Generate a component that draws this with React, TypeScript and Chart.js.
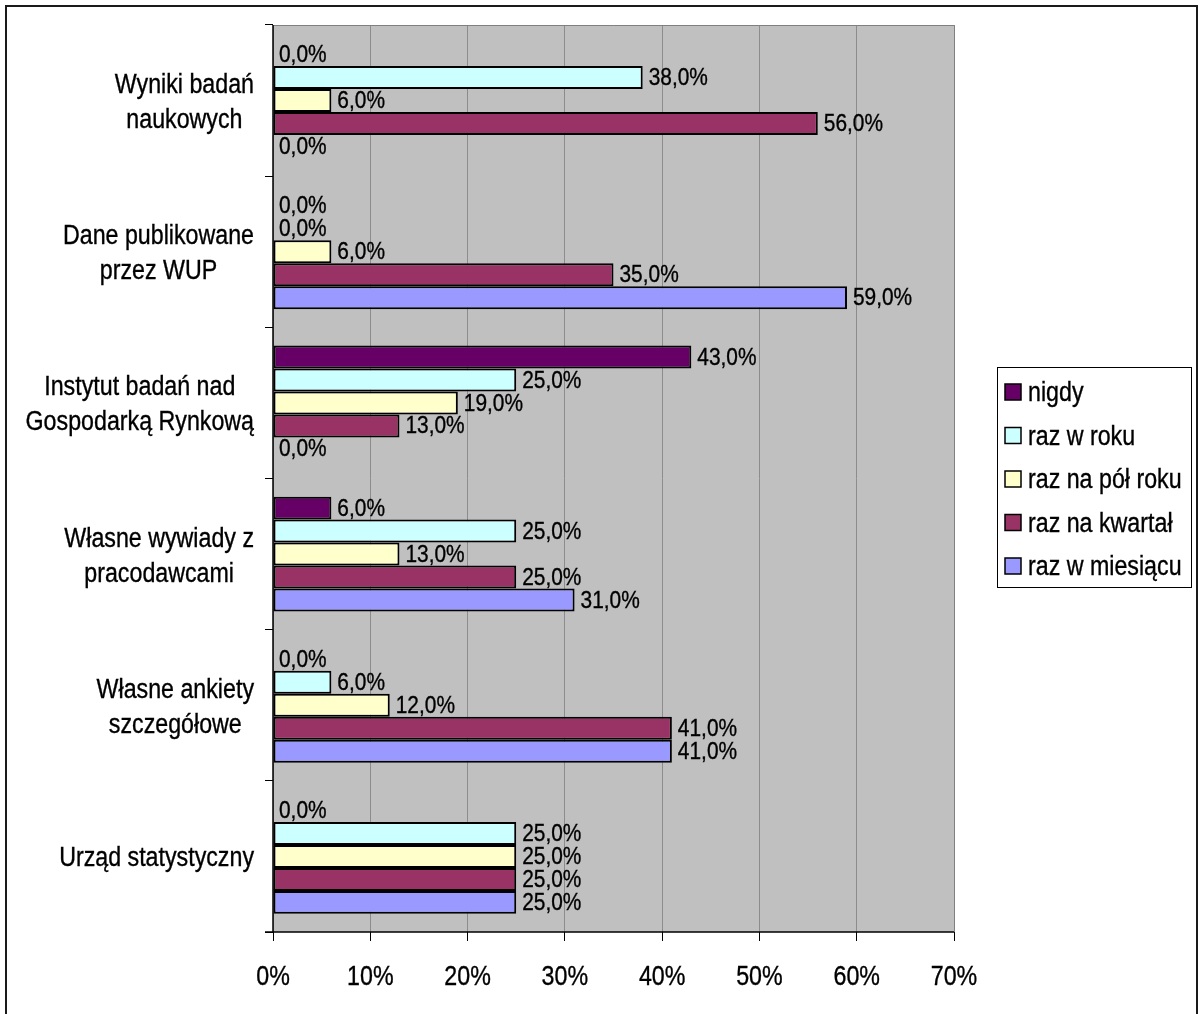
import React, { useEffect, useRef } from "react";
import { Chart, registerables } from "chart.js";

Chart.register(...registerables);

const categories: string[][] = [
  ["Wyniki badań", "naukowych"],
  ["Dane publikowane", "przez WUP"],
  ["Instytut badań nad", "Gospodarką Rynkową"],
  ["Własne wywiady z", "pracodawcami"],
  ["Własne ankiety", "szczegółowe"],
  ["Urząd statystyczny"],
];

const seriesNames = ["nigdy", "raz w roku", "raz na pół roku", "raz na kwartał", "raz w miesiącu"];

const nigdy = [0, 0, 43, 6, 0, 0];
const razWRoku = [38, 0, 25, 25, 6, 25];
const razNaPolRoku = [6, 6, 19, 13, 12, 25];
const razNaKwartal = [56, 35, 13, 25, 41, 25];
const razWMiesiacu = [0, 59, 0, 31, 41, 25];

const seriesValues = [nigdy, razWRoku, razNaPolRoku, razNaKwartal, razWMiesiacu];
const seriesColors = ["#660066", "#CCFFFF", "#FFFFCC", "#993366", "#9999FF"];

const xTickValues = [0, 10, 20, 30, 40, 50, 60, 70];

const FONT = '"Liberation Sans", Arial, sans-serif';

function drawText(
  ctx: CanvasRenderingContext2D,
  text: string,
  x: number,
  y: number,
  size: number,
  align: "left" | "center" | "right",
  h = 0.86
) {
  ctx.save();
  ctx.font = `${size}px ${FONT}`;
  ctx.textBaseline = "alphabetic";
  ctx.textAlign = "left";
  const w = ctx.measureText(text).width * h;
  const left = align === "center" ? x - w / 2 : align === "right" ? x - w : x;
  ctx.translate(left, y);
  ctx.scale(h, 1);
  ctx.fillStyle = "#000";
  ctx.fillText(text, 0, 0);
  ctx.strokeStyle = "#000";
  ctx.lineWidth = 0.35;
  ctx.strokeText(text, 0, 0);
  ctx.restore();
}

function textWidth(ctx: CanvasRenderingContext2D, text: string, size: number, h = 0.86) {
  ctx.save();
  ctx.font = `${size}px ${FONT}`;
  const w = ctx.measureText(text).width * h;
  ctx.restore();
  return w;
}

const decorPlugin = {
  id: "decor",
  beforeDraw(chart: any) {
    const { ctx, chartArea } = chart;
    const { left, top, right, bottom } = chartArea;
    ctx.save();
    ctx.fillStyle = "#fff";
    ctx.fillRect(0, 0, chart.width, chart.height);
    ctx.strokeStyle = "#1a1a1a";
    ctx.lineWidth = 2;
    ctx.strokeRect(6, 6, 1191, 1100);
    ctx.fillStyle = "#C0C0C0";
    ctx.fillRect(left, top, right - left, bottom - top);
    ctx.restore();
  },
  afterDatasetsDraw(chart: any) {
    const { ctx, chartArea } = chart;
    const { left, top, right, bottom } = chartArea;
    ctx.save();
    ctx.strokeStyle = "#808080";
    ctx.lineWidth = 1;
    ctx.beginPath();
    ctx.moveTo(left, top + 0.5);
    ctx.lineTo(right + 0.5, top + 0.5);
    ctx.lineTo(right + 0.5, bottom);
    ctx.stroke();
    ctx.strokeStyle = "#000";
    ctx.lineWidth = 1.5;
    ctx.beginPath();
    ctx.moveTo(left, top);
    ctx.lineTo(left, bottom);
    ctx.moveTo(left - 8, bottom);
    ctx.lineTo(right, bottom);
    ctx.stroke();
    ctx.restore();

    // data labels
    chart.data.datasets.forEach((ds: any, di: number) => {
      const meta = chart.getDatasetMeta(di);
      meta.data.forEach((el: any, i: number) => {
        const v = ds.data[i] as number;
        const label = v.toFixed(1).replace(".", ",") + "%";
        drawText(ctx, label, el.x + 6, el.y + 24 * 0.358 - 1, 24, "left", 0.87);
      });
    });

    // category labels
    const yScale = chart.scales.y;
    const catSize = 27;
    const lineH = 35;
    const capH = 20;
    categories.forEach((lines, i) => {
      const cy = yScale.getPixelForValue(i);
      const widths = lines.map((l) => textWidth(ctx, l, catSize));
      const maxW = Math.max(...widths);
      const cx = 254 - maxW / 2;
      const firstBase = cy - ((lines.length - 1) * lineH) / 2 + capH / 2;
      lines.forEach((l, li) => {
        drawText(ctx, l, cx, firstBase + li * lineH, catSize, "center");
      });
    });

    // x tick labels
    const xScale = chart.scales.x;
    xTickValues.forEach((v) => {
      drawText(ctx, `${v}%`, xScale.getPixelForValue(v), 985, 27, "center");
    });

    // legend
    ctx.save();
    ctx.strokeStyle = "#000";
    ctx.lineWidth = 1;
    ctx.strokeRect(997.5, 367.5, 194, 220);
    ctx.restore();
    seriesNames.forEach((name, i) => {
      const cy = 392 + i * 43.5;
      ctx.save();
      ctx.fillStyle = seriesColors[i];
      ctx.fillRect(1005, cy - 8, 16, 16);
      ctx.strokeStyle = "#000";
      ctx.lineWidth = 1.5;
      ctx.strokeRect(1005, cy - 8, 16, 16);
      ctx.restore();
      drawText(ctx, name, 1028, cy + 9, 27, "left", 0.86);
    });
  },
};

export default function App() {
  const canvasRef = useRef<HTMLCanvasElement | null>(null);

  useEffect(() => {
    const canvas = canvasRef.current;
    if (!canvas) return;
    const chart = new Chart(canvas, {
      type: "bar",
      data: {
        labels: categories.map((c) => c.join(" ")),
        datasets: seriesNames.map((name, i) => ({
          label: name,
          data: seriesValues[i],
          backgroundColor: seriesColors[i],
          borderColor: "#000",
          borderWidth: 2,
          borderSkipped: false,
          categoryPercentage: 0.76,
          barPercentage: 1,
        })),
      },
      options: {
        indexAxis: "y",
        responsive: false,
        maintainAspectRatio: false,
        animation: false,
        devicePixelRatio: 1,
        layout: { padding: { top: 25, right: 246, bottom: 0, left: 0 } },
        plugins: {
          legend: { display: false },
          tooltip: { enabled: false },
          title: { display: false },
        },
        scales: {
          x: {
            type: "linear",
            min: 0,
            max: 70,
            ticks: { stepSize: 10, display: false },
            grid: {
              color: "#8c8c8c",
              tickColor: "#000",
              tickLength: 9,
              lineWidth: 1,
            },
            border: { display: false },
            afterFit: (scale: any) => {
              scale.height = 82;
            },
          },
          y: {
            type: "category",
            offset: true,
            ticks: { display: false },
            grid: {
              drawOnChartArea: false,
              color: "#000",
              tickColor: "#000",
              tickLength: 8,
              offset: true,
            },
            border: { display: false },
            afterFit: (scale: any) => {
              scale.width = 273;
            },
          },
        },
      } as any,
      plugins: [decorPlugin],
    });
    return () => chart.destroy();
  }, []);

  return (
    <div style={{ position: "absolute", top: 0, left: 0, width: 1200, height: 1014, background: "#fff" }}>
      <canvas ref={canvasRef} width={1200} height={1014} style={{ display: "block", width: 1200, height: 1014 }} />
    </div>
  );
}
